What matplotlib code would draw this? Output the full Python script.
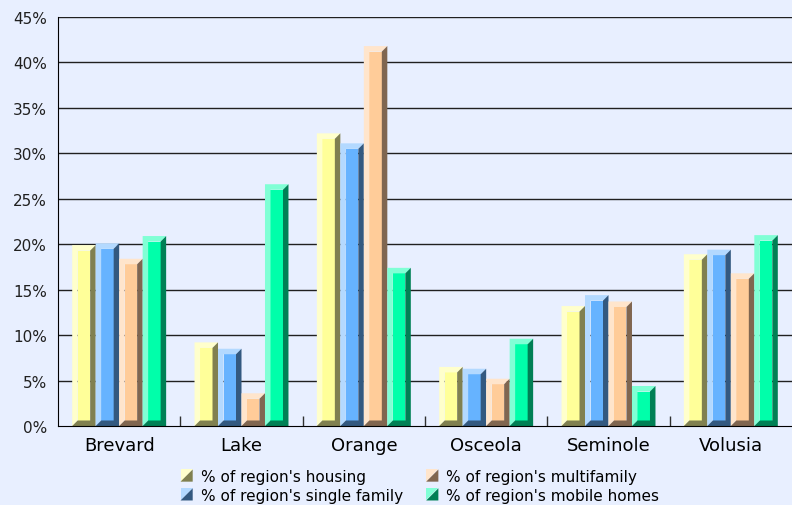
import numpy as np
import matplotlib.pyplot as plt
from matplotlib.patches import Polygon
from matplotlib.legend_handler import HandlerBase

counties = ["Brevard", "Lake", "Orange", "Osceola", "Seminole", "Volusia"]
housing = [19.9, 9.2, 32.2, 6.5, 13.2, 18.9]
single_family = [20.1, 8.5, 31.1, 6.3, 14.4, 19.4]
multifamily = [18.4, 3.6, 41.8, 5.2, 13.7, 16.8]
mobile_homes = [20.9, 26.6, 17.4, 9.6, 4.4, 21.0]
series_labels = ["% of region's housing", "% of region's single family",
                 "% of region's multifamily", "% of region's mobile homes"]
y_ticks = [0, 5, 10, 15, 20, 25, 30, 35, 40, 45]

series = [housing, single_family, multifamily, mobile_homes]
face = ['#FFFF99', '#66B3FF', '#FFCC99', '#00FFAA']
light = ['#FFFFCC', '#B3D9FF', '#FFE5CC', '#80FFD5']
dark = ['#808050', '#335980', '#806650', '#008055']
bg = '#E8EFFF'

W, H, DPI = 7.92, 5.06, 100
fig = plt.figure(figsize=(W, H), dpi=DPI, facecolor=bg)
ax_l, ax_b, ax_w, ax_h = 58 / 792, 1 - 427 / 506, 1 - 58 / 792, 409 / 506
ax = fig.add_axes([ax_l, ax_b, ax_w, ax_h], facecolor=bg)

xmin, xmax, ymax = -0.5, 5.5, 45
ax.set_xlim(xmin, xmax)
ax.set_ylim(0, ymax)

# bevel size in data units (about 5.5 px on each side)
bev = 5.5
bx = bev / (ax_w * W * DPI) * (xmax - xmin)
by = bev / (ax_h * H * DPI) * ymax

bw = 0.192
x = np.arange(len(counties))


def bevel_bar(x0, h, fc, lc, dc):
    x1 = x0 + bw
    ax.bar(x0 + bx, h - 2 * by, width=bw - 2 * bx, bottom=by, align='edge',
           color=fc, linewidth=0, zorder=3)
    ax.add_patch(Polygon([(x0, 0), (x0, h), (x1, h), (x1 - bx, h - by),
                          (x0 + bx, h - by), (x0 + bx, by)],
                         closed=True, fc=lc, ec='none', zorder=3))
    ax.add_patch(Polygon([(x1, h), (x1, 0), (x0, 0), (x0 + bx, by),
                          (x1 - bx, by), (x1 - bx, h - by)],
                         closed=True, fc=dc, ec='none', zorder=3))


for j, vals in enumerate(series):
    for i, v in enumerate(vals):
        bevel_bar(x[i] + (j - 2) * bw, v, face[j], light[j], dark[j])

# grid and axes
for t in y_ticks[1:]:
    ax.axhline(t, color='#202020', linewidth=1, zorder=1)
for s in ['top', 'right']:
    ax.spines[s].set_visible(False)
ax.spines['left'].set_color('black')
ax.spines['bottom'].set_color('black')
ax.spines['bottom'].set_zorder(4)

ax.set_yticks(y_ticks)
ax.set_yticklabels([f'{t}%' for t in y_ticks], fontsize=11, color='#202020')
ax.tick_params(axis='y', length=0, pad=8)

ax.set_xticks(x)
ax.set_xticklabels(counties, fontsize=13, color='black')
ax.tick_params(axis='x', which='major', length=0, pad=7)
ax.set_xticks(x[:-1] + 0.5, minor=True)
ax.tick_params(axis='x', which='minor', direction='in', length=7, width=1,
               color='#303030')


class BevelHandler(HandlerBase):
    def create_artists(self, legend, orig_handle, xdescent, ydescent,
                       width, height, fontsize, trans):
        lc, dc = orig_handle
        s = min(width, height)
        x0 = -xdescent + (width - s) / 2
        y0 = -ydescent + (height - s) / 2
        up = Polygon([(x0, y0), (x0, y0 + s), (x0 + s, y0 + s)],
                     closed=True, fc=lc, ec='none', transform=trans)
        lo = Polygon([(x0, y0), (x0 + s, y0 + s), (x0 + s, y0)],
                     closed=True, fc=dc, ec='none', transform=trans)
        return [up, lo]


handles = [(light[j], dark[j]) for j in range(4)]
fig.legend(handles, series_labels, handler_map={tuple: BevelHandler()},
           loc='center', bbox_to_anchor=(0.53, 0.038), ncol=2, frameon=False,
           fontsize=11, handlelength=0.85, handleheight=0.85,
           handletextpad=0.5, columnspacing=1.5, labelspacing=0.25,
           borderpad=0)

fig.savefig('out.png', dpi=DPI, facecolor=bg)
